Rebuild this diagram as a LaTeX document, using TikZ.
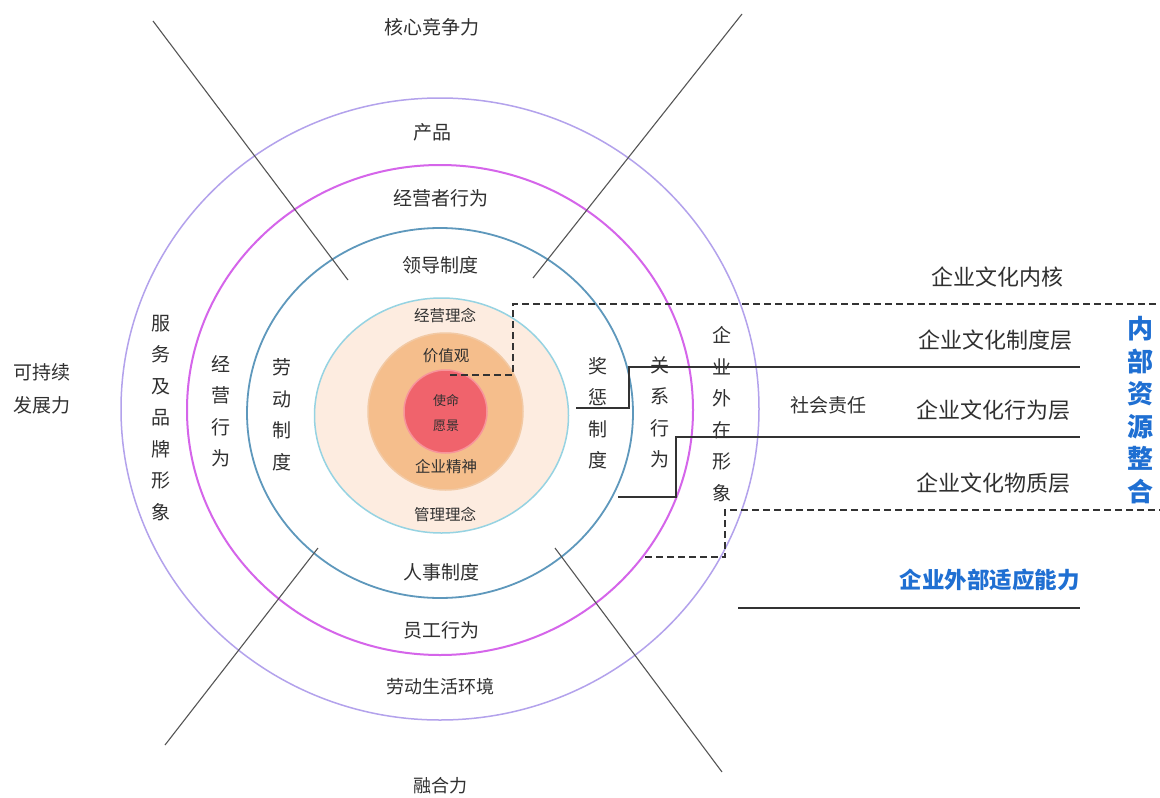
\documentclass[tikz,border=0pt]{standalone}
\usepackage{fontspec}
\newfontfamily\cjk{Noto Sans CJK SC}
\definecolor{txt}{HTML}{303030}
\definecolor{outerc}{HTML}{B3A2EC}
\definecolor{magc}{HTML}{D565EA}
\definecolor{bluec}{HTML}{5E98BC}
\definecolor{cyanc}{HTML}{96D3E2}
\definecolor{peachf}{HTML}{FDECE0}
\definecolor{orangef}{HTML}{F5BE8C}
\definecolor{orangec}{HTML}{F2C9A4}
\definecolor{redf}{HTML}{F0636C}
\definecolor{redc}{HTML}{F7949B}
\definecolor{linec}{HTML}{555555}
\definecolor{bluet}{HTML}{1F6FD2}
\begin{document}
\begin{tikzpicture}[x=1pt,y=-1pt,
  lbl/.style={font=\cjk\fontsize{19}{22}\selectfont, text=txt, inner sep=0pt},
  biglbl/.style={font=\cjk\fontsize{22}{25}\selectfont, text=txt, inner sep=0pt, anchor=east},
  small/.style={font=\cjk\fontsize{15.5}{18}\selectfont, text=txt, inner sep=0pt},
  vlbl/.style={font=\cjk\fontsize{19}{31.5}\selectfont, text=txt, align=center, inner sep=0pt},
  bluelbl/.style={text=bluet, inner sep=0pt},
  ring/.style={line width=1.5pt},
  diag/.style={draw=linec, line width=1.1pt},
  solidlink/.style={draw=black!80, line width=1.5pt},
  dashlink/.style={draw=black!80, line width=1.5pt, dash pattern=on 7pt off 4pt}]
\useasboundingbox (0,0) rectangle (1160,798);
\fill[white] (0,0) rectangle (1160,798);
% rings
\draw[ring, draw=outerc] (440,409) ellipse [x radius=319, y radius=311];
\draw[ring, draw=magc, line width=2pt] (440,410) ellipse [x radius=253, y radius=245];
\draw[ring, draw=bluec, line width=1.8pt] (440,413) ellipse [x radius=193, y radius=185];
\draw[ring, draw=cyanc, fill=peachf] (441.5,415.5) ellipse [x radius=127, y radius=117.5];
\draw[ring, draw=orangec, fill=orangef] (445.5,411.5) ellipse [x radius=77.5, y radius=78.5];
\draw[ring, draw=redc, fill=redf] (445.5,411.5) ellipse [x radius=41.5, y radius=41.5];
% diagonal lines
\coordinate (d1a) at (153,21); \coordinate (d1b) at (348,280);
\coordinate (d2a) at (742,14); \coordinate (d2b) at (533,278);
\coordinate (d3a) at (318,548); \coordinate (d3b) at (165,745);
\coordinate (d4a) at (555,548); \coordinate (d4b) at (722,772);
\draw[diag] (d1a) -- (d1b);
\draw[diag] (d2a) -- (d2b);
\draw[diag] (d3a) -- (d3b);
\draw[diag] (d4a) -- (d4b);
% connector polylines
\coordinate (p1a) at (450,375); \coordinate (p1b) at (513,375); \coordinate (p1c) at (513,304); \coordinate (p1d) at (1160,304);
\draw[dashlink] (p1a) -- (p1b) -- (p1c) -- (p1d);
\coordinate (p2a) at (576,408); \coordinate (p2b) at (629,408); \coordinate (p2c) at (629,367); \coordinate (p2d) at (1080,367);
\draw[solidlink] (p2a) -- (p2b) -- (p2c) -- (p2d);
\coordinate (p3a) at (618,497); \coordinate (p3b) at (676,497); \coordinate (p3c) at (676,437); \coordinate (p3d) at (1080,437);
\draw[solidlink] (p3a) -- (p3b) -- (p3c) -- (p3d);
\coordinate (p4a) at (645,557); \coordinate (p4b) at (725,557); \coordinate (p4c) at (725,510); \coordinate (p4d) at (1160,510);
\draw[dashlink] (p4a) -- (p4b) -- (p4c) -- (p4d);
\coordinate (u1) at (738,608); \coordinate (u2) at (1080,608);
\draw[solidlink, line width=1.3pt] (u1) -- (u2);
% top / bottom labels
\node[lbl] (hx) at (432,27) {核心竞争力};
\node[lbl] (cp) at (432,132) {产品};
\node[lbl] (jyzxw) at (441,198) {经营者行为};
\node[lbl] (ldzd) at (440,265) {领导制度};
\node[small] (jyln) at (445,315) {经营理念};
\node[small] (jzg) at (446,356) {价值观};
\node[small, font=\cjk\fontsize{13}{25}\selectfont, align=center] (smyj) at (446,413) {使命\\愿景};
\node[small] (qyjs) at (446,467) {企业精神};
\node[small] (glln) at (445,514) {管理理念};
\node[lbl] (rszd) at (441,572) {人事制度};
\node[lbl] (ygxw) at (441,630) {员工行为};
\node[lbl, font=\cjk\fontsize{18}{22}\selectfont] (ldsh) at (440,687) {劳动生活环境};
\node[lbl, font=\cjk\fontsize{18}{22}\selectfont] (rhl) at (440,786) {融合力};
\node[lbl, align=center, font=\cjk\fontsize{19}{33}\selectfont] (kcx) at (42,389) {可持续\\发展力};
% vertical labels
\node[vlbl] (fw) at (161,418) {服\\务\\及\\品\\牌\\形\\象};
\node[vlbl] (jyxw) at (221,411) {经\\营\\行\\为};
\node[vlbl] (ldzd2) at (282,415) {劳\\动\\制\\度};
\node[vlbl] (jczd) at (598,413) {奖\\惩\\制\\度};
\node[vlbl] (gxxw) at (660,412) {关\\系\\行\\为};
\node[vlbl] (wzxx) at (722,414) {企\\业\\外\\在\\形\\象};
\node[lbl] (shzr) at (828,405) {社会责任};
% right labels
\node[biglbl] (nh) at (1064,277) {企业文化内核};
\node[biglbl] (zdc) at (1073,340) {企业文化制度层};
\node[biglbl] (xwc) at (1071,410) {企业文化行为层};
\node[biglbl] (wzc) at (1071,483) {企业文化物质层};
\node[bluelbl, font=\cjk\bfseries\fontsize{26}{32.5}\selectfont, align=center] (nbzy) at (1140,410) {内\\部\\资\\源\\整\\合};
\node[bluelbl, font=\cjk\bfseries\fontsize{22.5}{26}\selectfont, anchor=east] (wbsy) at (1080,580) {企业外部适应能力};
\end{tikzpicture}
\end{document}
